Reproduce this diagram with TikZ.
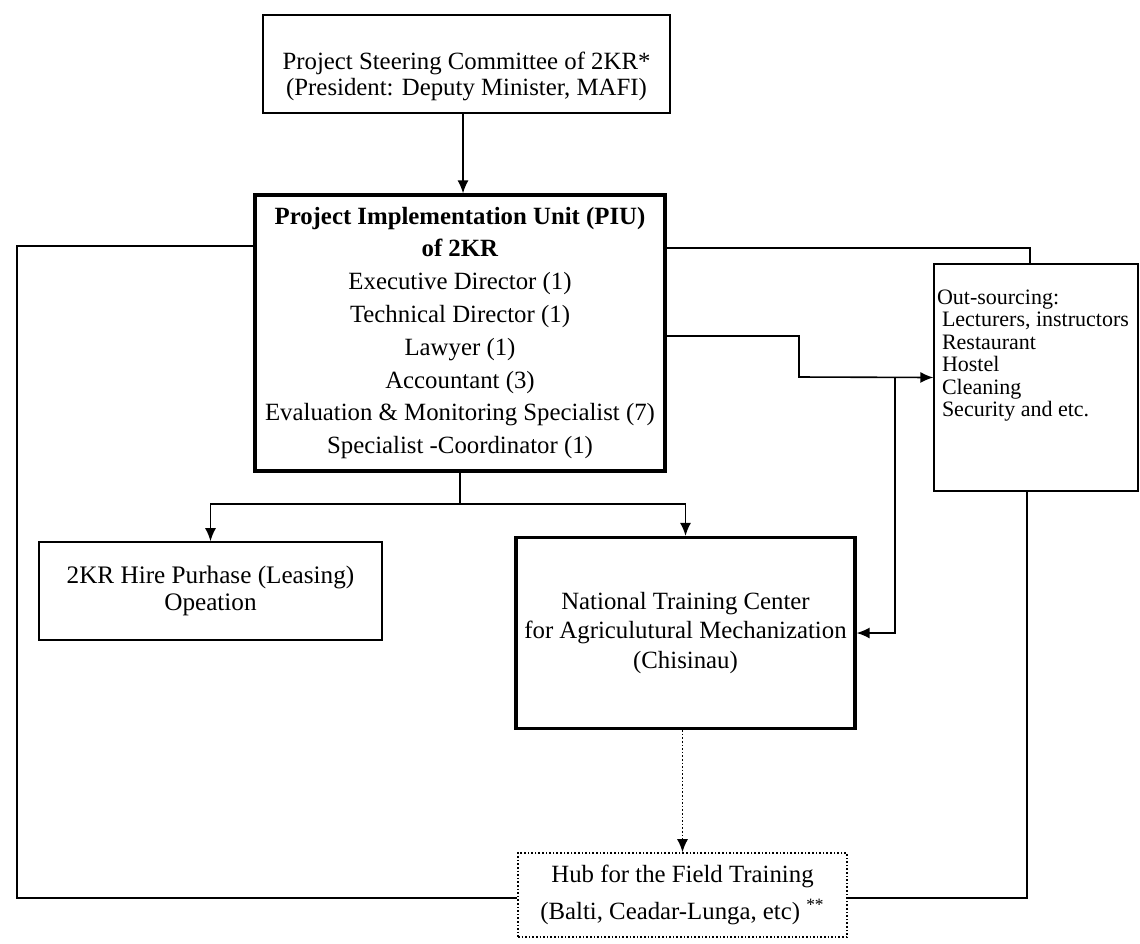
\documentclass[tikz,border=0pt]{standalone}
\usepackage{fontspec}
\setmainfont{Liberation Serif}
\usetikzlibrary{positioning, calc, arrows.meta}

\begin{document}
\begin{tikzpicture}[x=0.5pt, y=-0.5pt,
		>={Latex[length=6.5pt,width=5.5pt]},
		box/.style={draw, line width=0.8pt, align=center, inner sep=0pt},
		thickbox/.style={box, line width=1.6pt},
		conn/.style={line width=0.8pt}]
	\useasboundingbox (0,0) rectangle (1140,943);

	\node[box, minimum width=203.5pt, minimum height=49pt, font=\fontsize{12.4}{12.8}\selectfont] (steer) at (466.5,64)
		{\rule{0pt}{21pt}Project Steering Committee of 2KR*\\(President: Deputy Minister, MAFI)};
	\node[thickbox, minimum width=205pt, minimum height=138pt, font=\fontsize{12.4}{16.4}\selectfont] (piu) at (460,333)
		{\textbf{Project Implementation Unit (PIU)}\\\textbf{of 2KR}\\Executive Director (1)\\Technical Director (1)\\Lawyer (1)\\Accountant (3)\\Evaluation \& Monitoring Specialist (7)\\Specialist -Coordinator (1)};
	\node[box, minimum width=171.5pt, minimum height=49pt, font=\fontsize{12.6}{13.4}\selectfont] (lease) at (210.5,591)
		{2KR Hire Purhase (Leasing)\\Opeation};
	\node[thickbox, minimum width=169.5pt, minimum height=95.5pt, font=\fontsize{12.4}{14.6}\selectfont] (ntc) at (685.5,633)
		{National Training Center\\for Agriculutural Mechanization\\(Chisinau)};
	\node[box, line width=0.6pt, inner xsep=1.5pt, font=\fontsize{11}{11.2}\selectfont] (outs) at (1036,377.5)
		{\parbox[c][113.5pt][t]{99pt}{\raggedright\vspace*{13pt}Out-sourcing:\\
		\hspace*{2.5pt}Lecturers, instructors\\\hspace*{2.5pt}Restaurant\\\hspace*{2.5pt}Hostel\\\hspace*{2.5pt}Cleaning\\\hspace*{2.5pt}Security and etc.}};
	\node[box, densely dotted, minimum width=164.5pt, minimum height=42pt, font=\fontsize{12.4}{18.4}\selectfont] (hub) at (682.5,895)
		{Hub for the Field Training\\(Balti, Ceadar-Lunga, etc)~\textsuperscript{**}};

	\coordinate (split) at (460,504);

	% connectors
	\draw[conn, ->] (steer.south -| 463,0) -- (piu.north -| 463,0);
	\draw[conn] (piu.west |- 0,246) -| (17,898) -- (hub.west |- 0,898);
	\draw[conn] (piu.east |- 0,248) -| (outs.north -| 1030,0);
	\draw[conn, ->] (piu.east |- 0,336) -| (799,377) -- (outs.west);
	\draw[conn, ->] (895,377) |- (ntc.east);
	\draw[conn] (piu.south) -- (split);
	\draw[conn, ->] (split) -| (lease.north);
	\draw[conn, ->] (split) -| (ntc.north);
	\draw[conn, densely dotted, ->] (hub.north |- ntc.south) -- (hub.north);
	\draw[conn] (outs.south -| 1027,0) |- (hub.east |- 0,898);
\end{tikzpicture}
\end{document}
